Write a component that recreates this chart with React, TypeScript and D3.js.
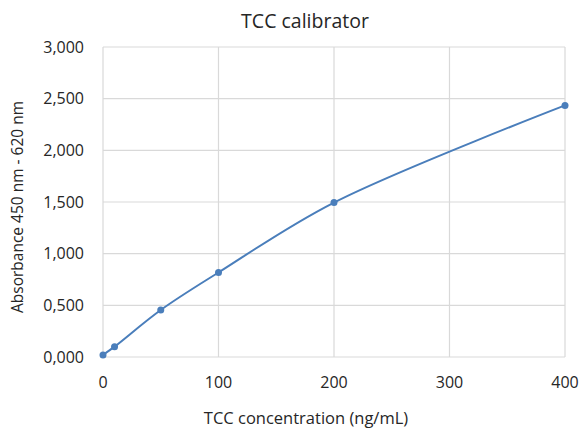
import { useEffect, useRef } from 'react';
import * as d3 from 'd3';

const concentrations = [0, 10, 50, 100, 200, 400];
const absorbance = [0.02, 0.1, 0.455, 0.818, 1.495, 2.435];
const xTicks = [0, 100, 200, 300, 400];
const yTicks = [0, 0.5, 1, 1.5, 2, 2.5, 3];

const [width, height] = [580, 430];
const margin = { top: 47, right: 15, bottom: 73, left: 103 };
const font = "'Open Sans', 'Noto Sans', sans-serif";
const lineColor = '#4a7ebb';
const textColor = '#262626';

function App() {
    const node = useRef<SVGSVGElement>(null);

    useEffect(() => {
        if (!node.current) return;
        const svg = d3.select(node.current);
        svg.selectAll('*').remove();

        const x = d3.scaleLinear().domain([0, 400]).range([margin.left, width - margin.right]);
        const y = d3.scaleLinear().domain([0, 3]).range([height - margin.bottom, margin.top]);
        const fmt = (n: number) => d3.format('.3f')(n).replace('.', ',');

        svg.append('rect').attr('width', width).attr('height', height).attr('fill', '#fff');

        // gridlines
        svg.append('g')
            .selectAll('line')
            .data(yTicks)
            .enter()
            .append('line')
            .attr('x1', x(0)).attr('x2', x(400))
            .attr('y1', d => y(d)).attr('y2', d => y(d))
            .attr('stroke', '#d9d9d9').attr('stroke-width', 1.2);

        svg.append('g')
            .selectAll('line')
            .data(xTicks)
            .enter()
            .append('line')
            .attr('x1', d => x(d)).attr('x2', d => x(d))
            .attr('y1', y(0)).attr('y2', y(3))
            .attr('stroke', '#d9d9d9').attr('stroke-width', 1.2);

        // tick labels
        svg.append('g')
            .selectAll('text')
            .data(yTicks)
            .enter()
            .append('text')
            .attr('x', 84)
            .attr('y', d => y(d))
            .attr('dy', '0.35em')
            .attr('text-anchor', 'end')
            .attr('font-family', font).attr('font-size', 16).attr('fill', textColor)
            .text(d => fmt(d));

        svg.append('g')
            .selectAll('text')
            .data(xTicks)
            .enter()
            .append('text')
            .attr('x', d => x(d))
            .attr('y', 382)
            .attr('dy', '0.35em')
            .attr('text-anchor', 'middle')
            .attr('font-family', font).attr('font-size', 16).attr('fill', textColor)
            .text(d => d);

        // titles
        svg.append('text')
            .attr('x', 305).attr('y', 28)
            .attr('text-anchor', 'middle')
            .attr('font-family', font).attr('font-size', 19.5).attr('fill', textColor)
            .text('TCC calibrator');

        svg.append('text')
            .attr('x', 306).attr('y', 424)
            .attr('text-anchor', 'middle')
            .attr('font-family', font).attr('font-size', 16.5).attr('fill', textColor)
            .text('TCC concentration (ng/mL)');

        svg.append('text')
            .attr('transform', 'translate(23,207) rotate(-90)')
            .attr('text-anchor', 'middle')
            .attr('font-family', font).attr('font-size', 15.5).attr('fill', textColor)
            .text('Absorbance 450 nm - 620 nm');

        // series
        const points = concentrations.map((c, i) => [c, absorbance[i]] as [number, number]);
        const line = d3.line<[number, number]>()
            .x(d => x(d[0]))
            .y(d => y(d[1]))
            .curve(d3.curveCatmullRom.alpha(0.5));

        svg.append('path')
            .datum(points)
            .attr('d', line)
            .attr('fill', 'none')
            .attr('stroke', lineColor)
            .attr('stroke-width', 2);

        svg.append('g')
            .selectAll('circle')
            .data(points)
            .enter()
            .append('circle')
            .attr('cx', d => x(d[0]))
            .attr('cy', d => y(d[1]))
            .attr('r', 3.5)
            .attr('fill', lineColor);
    }, [node]);

    return (
        <svg ref={node} width={width} height={height}
            style={{ position: 'absolute', left: 0, top: 0 }}></svg>
    );
}

export default App;
